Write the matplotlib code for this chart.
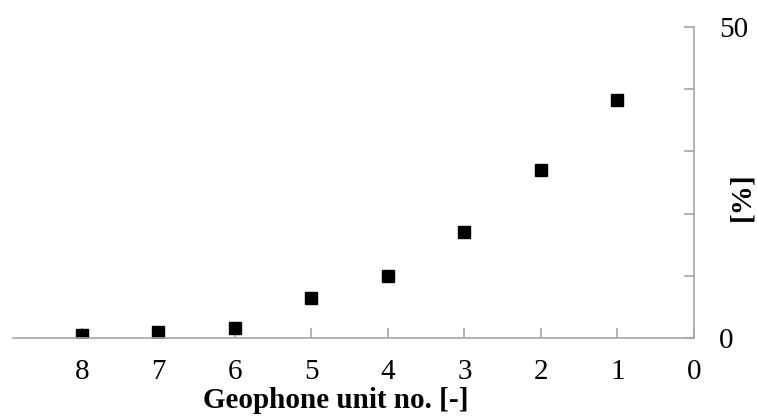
import numpy as np
import matplotlib.pyplot as plt

plt.rcParams['font.family'] = ['Liberation Serif', 'DejaVu Serif']

# geophone unit numbers and their share [%]
units = [8, 7, 6, 5, 4, 3, 2, 1]
share = [0.5, 0.9, 1.6, 6.5, 10.0, 17.0, 27.0, 38.3]

fig = plt.figure(figsize=(7.57, 4.17), dpi=100)
ax = fig.add_axes([13/757, (417-338)/417, (694-13)/757, (338-27)/417])

ax.plot(units, share, linestyle='None', marker='s', color='black', markersize=8.5)

ax.set_xlim(8.9, 0)
ax.set_ylim(0, 50)
ax.set_xticks(range(0, 9))
ax.set_yticks(range(0, 51, 10))
ax.set_yticklabels(['0', '', '', '', '', '50'])

ax.spines['left'].set_visible(False)
ax.spines['top'].set_visible(False)
for s in ['right', 'bottom']:
    ax.spines[s].set_color('#a6a6a6')
    ax.spines[s].set_linewidth(1.2)

ax.yaxis.tick_right()
ax.tick_params(axis='both', direction='in', color='#a6a6a6', width=1.2, length=7,
               labelsize=21)
ax.tick_params(axis='x', pad=15)
ax.tick_params(axis='y', pad=18)

ax.set_xlabel('Geophone unit no. [-]', fontsize=21, fontweight='bold')
ax.xaxis.set_label_coords(0.474, -0.158)
ax.yaxis.set_label_position('right')
ax.set_ylabel('[%]', fontsize=21, fontweight='bold')
ax.yaxis.set_label_coords(1.05, 0.453)

fig.savefig('out.png', dpi=100)
